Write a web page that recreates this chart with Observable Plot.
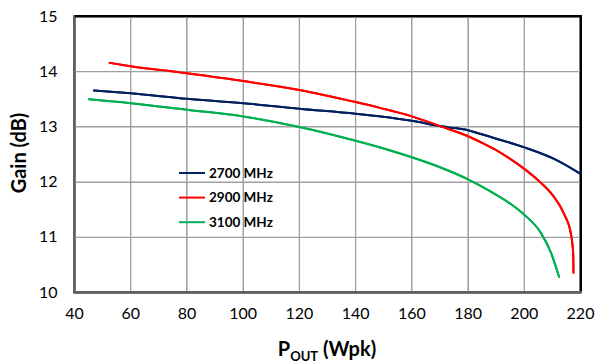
<!DOCTYPE html>
<html><head><meta charset="utf-8">
<script src="https://cdn.jsdelivr.net/npm/d3@7"></script>
<script src="https://cdn.jsdelivr.net/npm/@observablehq/plot@0.6"></script>
</head><body style="margin:0;background:#fff">
<div id="wrap" style="position:relative;width:595px;height:364px"></div>
<script>
const series = ["2700 MHz","2900 MHz","3100 MHz"];
const colors = ["#002060","#ff0000","#00b050"];
const pout2700 = [46.9,60,80,100,120,140,149,160,170.3,180,184.5,200,210.6,220];
const gain2700 = [13.66,13.61,13.51,13.43,13.33,13.24,13.19,13.11,13.01,12.94,12.87,12.63,12.42,12.15];
const pout2900 = [52.5,60,80,100,120,140,149,160,170.3,180,185,190,195,200,205,210,214.2,216.6,217.4,217.5];
const gain2900 = [14.16,14.10,13.97,13.83,13.67,13.45,13.34,13.19,13.01,12.83,12.71,12.58,12.42,12.24,12.03,11.77,11.42,11.06,10.70,10.36];
const pout3100 = [45.2,60,80,100,120,140,150,160,170,180,188,195,200,205.9,209.5,212.4];
const gain3100 = [13.50,13.43,13.31,13.19,13.0,12.75,12.61,12.45,12.27,12.05,11.83,11.61,11.41,11.08,10.72,10.28];
const xTicks = [40,60,80,100,120,140,160,180,200,220];
const yTicks = [10,11,12,13,14,15];

const pts = [];
[[pout2700,gain2700],[pout2900,gain2900],[pout3100,gain3100]].forEach(([xs,ys],i)=>{
  xs.forEach((x,j)=>pts.push({s:series[i],x,y:ys[j]}));
});

const W=595,H=364, ML=74, MR=15, MT=16, MB=72;
const chart = Plot.plot({
  width:W,height:H,
  marginLeft:ML,marginRight:MR,marginTop:MT,marginBottom:MB,
  style:{fontFamily:"Lato, 'Open Sans', sans-serif",fontSize:"16px",color:"#000",background:"transparent"},
  x:{domain:[40,220],label:null},
  y:{domain:[10,15],label:null},
  color:{domain:series,range:colors},
  marks:[
    Plot.gridX(xTicks,{stroke:"#a0a0a0",strokeOpacity:1,strokeWidth:1.3}),
    Plot.gridY(yTicks,{stroke:"#a0a0a0",strokeOpacity:1,strokeWidth:1.3}),
    Plot.frame({stroke:"#000",fill:"none",strokeWidth:2}),
    Plot.axisX({ticks:xTicks,tickSize:0,tickPadding:15,fontSize:16,label:null,tickFormat:d=>String(d)}),
    Plot.axisY({ticks:yTicks,tickSize:0,tickPadding:17,fontSize:16,label:null,tickFormat:d=>String(d)}),
    Plot.line(pts,{x:"x",y:"y",z:"s",stroke:"s",strokeWidth:2,curve:"monotone-x"})
  ]
});
const wrap = document.getElementById("wrap");
chart.style.position = "absolute"; chart.style.left = "0px"; chart.style.top = "0px";
wrap.appendChild(chart);

const svg = d3.select(chart);
svg.append("text").attr("transform","translate(26,153) rotate(-90)")
  .attr("text-anchor","middle").attr("font-weight","bold").attr("font-size",20)
  .attr("fill","#000").text("Gain (dB)");
const xt = svg.append("text").attr("x",327).attr("y",356).attr("text-anchor","middle")
  .attr("font-weight","bold").attr("font-size",20).attr("fill","#000");
xt.append("tspan").text("P");
xt.append("tspan").attr("font-size",13).attr("dy",5).text("OUT");
xt.append("tspan").attr("dy",-5).text(" (Wpk)");

// scale positions from Plot's own scales (with a linear fallback on the same domains)
let sx = null, sy = null;
try { sx = chart.scale("x"); sy = chart.scale("y"); } catch(e) {}
const X = v => { const r = sx && sx.apply ? +sx.apply(v) : NaN; return Number.isFinite(r) ? r : ML + (v-40)/(180)*(W-ML-MR); };
const Y = v => { const r = sy && sy.apply ? +sy.apply(v) : NaN; return Number.isFinite(r) ? r : MT + (15-v)/5*(H-MT-MB); };
const x0 = X(40), x1 = X(220), y0 = Y(10), y1 = Y(15);

// HTML grid layer drawn above the Plot svg
function box(l,t,w,h,bg){
  const d = document.createElement("div");
  d.style.cssText = `position:absolute;left:${l}px;top:${t}px;width:${w}px;height:${h}px;background:${bg};pointer-events:none;z-index:1`;
  wrap.appendChild(d);
}
xTicks.forEach(t => box(Math.round(X(t)), Math.round(y1), 1.3, Math.round(y0-y1), "#a0a0a0"));
yTicks.forEach(t => box(Math.round(x0), Math.round(Y(t)), Math.round(x1-x0), 1.3, "#a0a0a0"));
box(Math.round(x0), Math.round(y1)-1, Math.round(x1-x0)+2, 2, "#000");      // top
box(Math.round(x1), Math.round(y1)-1, 2, Math.round(y0-y1)+2, "#000");      // right
box(Math.round(x0)-1, Math.round(y1)-1, 2, Math.round(y0-y1)+2, "#606060"); // left
box(Math.round(x0)-1, Math.round(y0)-1, Math.round(x1-x0)+3, 2, "#606060"); // bottom

// overlay svg above the grid: curves (Plot's paths) and legend
const over = d3.select(wrap).append("svg").attr("width",W).attr("height",H)
  .style("position","absolute").style("left","0px").style("top","0px").style("z-index",2).style("pointer-events","none");
const lineG = chart.querySelector('g[aria-label="line"]');
const curves = over.append("g").attr("transform", lineG ? (lineG.getAttribute("transform")||"") : "");
if (lineG) lineG.querySelectorAll("path").forEach(p => {
  curves.append("path").attr("d",p.getAttribute("d"))
    .attr("stroke",p.getAttribute("stroke") || lineG.getAttribute("stroke"))
    .attr("fill","none").attr("stroke-width",2)
    .attr("stroke-linejoin","round").attr("stroke-linecap","round");
});
const lg = over.append("g").attr("transform","translate(179,173)");
series.forEach((s,i)=>{
  const g = lg.append("g").attr("transform",`translate(0,${i*24.6})`);
  g.append("line").attr("x1",0).attr("x2",26).attr("y1",0).attr("y2",0)
    .attr("stroke",colors[i]).attr("stroke-width",2);
  g.append("text").attr("x",30).attr("y",4.5).attr("text-anchor","start").attr("font-weight","bold")
    .attr("font-family","Lato, 'Open Sans', sans-serif")
    .attr("font-size",13.5).attr("fill","#000").text(s);
});
</script></body></html>
